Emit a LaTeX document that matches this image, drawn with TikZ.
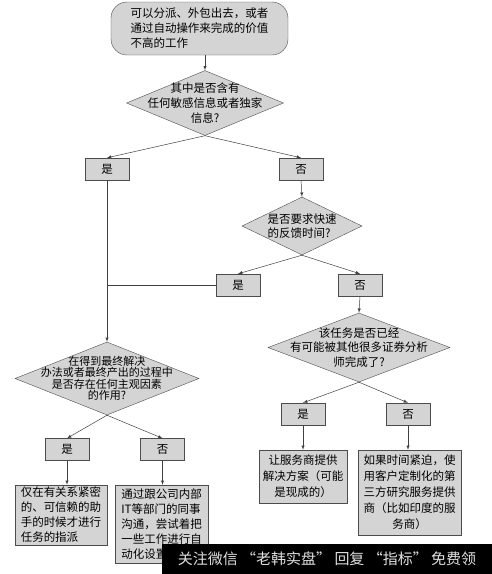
\documentclass[tikz,border=0pt]{standalone}
\usepackage{fontspec}
\setmainfont{Noto Sans CJK SC}
\usepackage{tikz}
\usetikzlibrary{arrows,shapes,positioning,calc}

\begin{document}
\begin{tikzpicture}[x=1pt,y=-1pt,>=latex,font=\fontsize{11.5}{15}\selectfont]
	\tikzstyle{box}=[draw=black!70,fill=black!17,inner sep=2pt]
	\tikzstyle{answer}=[box,minimum width=44pt,minimum height=22pt]
	\tikzstyle{decision}=[diamond,draw=black!70,fill=black!17,inner sep=0pt]
	\tikzstyle{qtext}=[align=center]
	\tikzstyle{flow}=[draw=black!75,line width=0.5pt]
	\useasboundingbox (0,0) rectangle (492,574);
	
	\node[box, rounded corners=16pt, minimum width=177pt, minimum height=53pt, align=left] (start) at (199.5,28.5)
		{可以分派、外包出去，或者\\通过自动操作来完成的价值\\不高的工作};
	
	\node[decision, minimum width=157pt, minimum height=65pt,
		label={[qtext]center:{其中是否含有\\任何敏感信息或者独家\\信息?}}] (sensitive) at (205,103) {};
	\node[answer](yes1) at (107,169) {是};
	\node[answer](no1) at (301,169) {否};
	
	\node[decision, minimum width=120pt, minimum height=58pt,
		label={[align=left,font=\fontsize{11.5}{14}\selectfont]center:{是否要求快速\\的反馈时间?}}] (fast) at (302,226) {};
	\node[answer](yes2) at (238,285) {是};
	\node[answer](no2) at (360,285) {否};
	
	\node[decision, minimum width=184pt, minimum height=73pt,
		label={[qtext,font=\fontsize{11}{11.5}\selectfont]center:{在得到最终解决\\办法或者最终产出的过程中\\是否存在任何主观因素\\的作用?}}] (subjective) at (107,378.5) {};
	\node[answer](yes4) at (67,449.5) {是};
	\node[answer](no4) at (162.5,449.5) {否};
	\node[box, minimum width=92pt, minimum height=60pt, align=left] (trusted) at (61,515)
		{仅在有关系紧密\\的、可信赖的助\\手的时候才进行\\任务的指派};
	\node[box, minimum width=93pt, minimum height=78pt, align=left] (automate) at (161.5,524)
		{通过跟公司内部\\IT等部门的同事\\沟通，尝试着把\\一些工作进行自\\动化设置};
	
	\node[decision, minimum width=182pt, minimum height=69pt,
		label={[qtext,font=\fontsize{11.5}{14.5}\selectfont]center:{该任务是否已经\\有可能被其他很多证券分析\\师完成了?}}] (done) at (359,347.5) {};
	\node[answer](yes3) at (303,414) {是};
	\node[answer](no3) at (408,414) {否};
	\node[box, minimum width=88pt, minimum height=53pt, align=center, font=\fontsize{11.5}{16}\selectfont] (vendor) at (303,476.5)
		{让服务商提供\\解决方案（可能\\是现成的）};
	\node[box, minimum width=103pt, minimum height=85pt, align=center, font=\fontsize{11.5}{16}\selectfont] (thirdparty) at (409.5,492.5)
		{如果时间紧迫，使\\用客户定制化的第\\三方研究服务提供\\商（比如印度的服\\务商）};
	
	\path[->] (start.south -| sensitive.north) edge[flow] (sensitive.north);
	\path[->] (sensitive.south) edge[flow] (yes1.north);
	\path[->] (sensitive.south) edge[flow] (no1.north);
	\path[->] (no1.south) edge[flow] (fast.north);
	\path[->] (fast.south) edge[flow] (yes2.north);
	\path[->] (fast.south) edge[flow] (no2.north);
	\path[->] (yes1.south) edge[flow] (subjective.north);
	\path (yes2.west) edge[flow] (yes2.west -| yes1.south);
	\path[->] (no2.south) edge[flow] (done.north);
	\path[->] (subjective.south) edge[flow] (yes4.north);
	\path[->] (subjective.south) edge[flow] (no4.north);
	\path[->] (yes4.south) edge[flow] (yes4.south |- trusted.north);
	\path[->] (no4.south) edge[flow] (no4.south |- automate.north);
	\path[->] (done.south) edge[flow] (yes3.north);
	\path[->] (done.south) edge[flow] (no3.north);
	\path[->] (yes3.south) edge[flow] (yes3.south |- vendor.north);
	\path[->] (no3.south) edge[flow] (no3.south |- thirdparty.north);
	
	\node[fill=black, text=black!12, minimum width=330pt, minimum height=30pt, inner sep=0pt,
		font=\fontsize{15}{15}\selectfont] (banner) at (327,559) {关注微信 “老韩实盘” 回复 “指标” 免费领};
\end{tikzpicture}
\end{document}
